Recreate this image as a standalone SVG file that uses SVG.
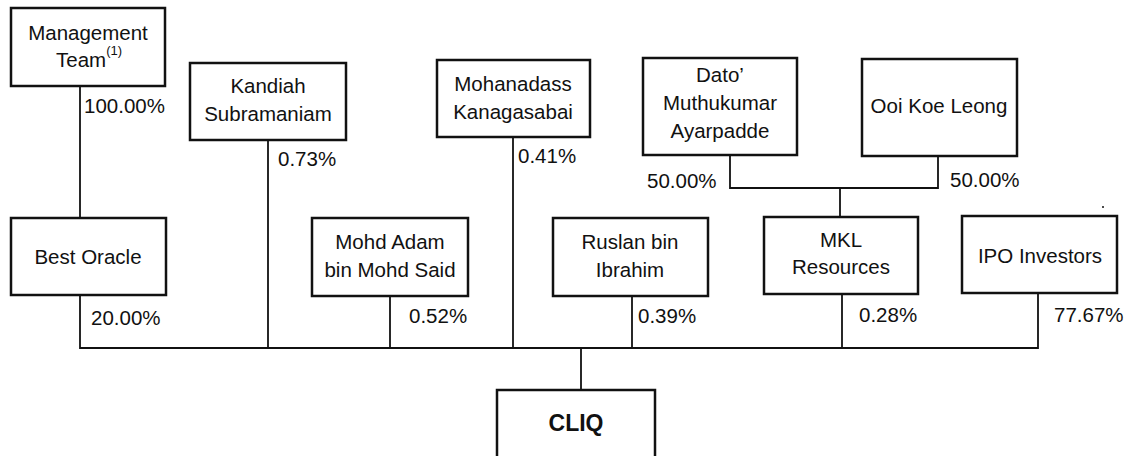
<svg xmlns="http://www.w3.org/2000/svg" width="1134" height="456" viewBox="0 0 1134 456">
<style>
.box{fill:#fff;stroke:#111;stroke-width:2.5}
.ln{fill:none;stroke:#111;stroke-width:1.8}
text{font-family:"Liberation Sans",Arial,sans-serif;font-size:20.5px;fill:#111}
.c{text-anchor:middle}
.b{font-weight:bold;font-size:23px}
.sup{font-size:13px}
</style>
<rect width="1134" height="456" fill="#fff"/>
<g id="connectors">
<path class="ln" d="M80,86 V218"/>
<path class="ln" d="M80,295 V348 H1038 V293"/>
<path class="ln" d="M268,140 V348"/>
<path class="ln" d="M513,137 V348"/>
<path class="ln" d="M390,296 V348"/>
<path class="ln" d="M632,296 V348"/>
<path class="ln" d="M842,294 V348"/>
<path class="ln" d="M581,348 V390"/>
<path class="ln" d="M730,155 V188 H938 V156"/>
<path class="ln" d="M840,188 V217"/>
<text x="84" y="113">100.00%</text>
<text x="278" y="166">0.73%</text>
<text x="518" y="163">0.41%</text>
<text x="91" y="325">20.00%</text>
<text x="409" y="323">0.52%</text>
<text x="638" y="323">0.39%</text>
<text x="859" y="322">0.28%</text>
<text x="1054" y="322">77.67%</text>
<text x="647" y="188">50.00%</text>
<text x="950" y="187">50.00%</text>
</g>
<g id="management-team">
<rect class="box" x="11" y="8" width="154" height="78"/>
<text class="c" x="88" y="40">Management</text>
<text x="56" y="67">Team<tspan class="sup" dy="-12">(1)</tspan></text>
</g>
<g id="kandiah">
<rect class="box" x="190" y="63" width="156" height="77"/>
<text class="c" x="268" y="93">Kandiah</text>
<text class="c" x="268" y="121">Subramaniam</text>
</g>
<g id="mohanadass">
<rect class="box" x="437" y="60" width="153" height="77"/>
<text class="c" x="513" y="91">Mohanadass</text>
<text class="c" x="513" y="119">Kanagasabai</text>
</g>
<g id="dato">
<rect class="box" x="643" y="58" width="154" height="97"/>
<text class="c" x="720" y="82">Dato’</text>
<text class="c" x="720" y="110">Muthukumar</text>
<text class="c" x="720" y="138">Ayarpadde</text>
</g>
<g id="ooi">
<rect class="box" x="862" y="59" width="155" height="97"/>
<text class="c" x="939" y="113">Ooi Koe Leong</text>
</g>
<g id="best-oracle">
<rect class="box" x="11" y="218" width="155" height="77"/>
<text class="c" x="88" y="264">Best Oracle</text>
</g>
<g id="mohd-adam">
<rect class="box" x="312" y="218" width="156" height="78"/>
<text class="c" x="390" y="249">Mohd Adam</text>
<text class="c" x="390" y="277">bin Mohd Said</text>
</g>
<g id="ruslan">
<rect class="box" x="553" y="218" width="155" height="78"/>
<text class="c" x="630" y="249">Ruslan bin</text>
<text class="c" x="630" y="277">Ibrahim</text>
</g>
<g id="mkl">
<rect class="box" x="764" y="217" width="154" height="77"/>
<text class="c" x="841" y="247">MKL</text>
<text class="c" x="841" y="274">Resources</text>
</g>
<g id="ipo">
<rect class="box" x="962" y="216" width="155" height="77"/>
<text class="c" x="1040" y="263">IPO Investors</text>
</g>
<g id="cliq">
<rect class="box" x="497" y="390" width="158" height="80"/>
<text class="c b" x="576" y="431">CLIQ</text>
</g>
<circle cx="1103" cy="207" r="1" fill="#111"/>
</svg>
